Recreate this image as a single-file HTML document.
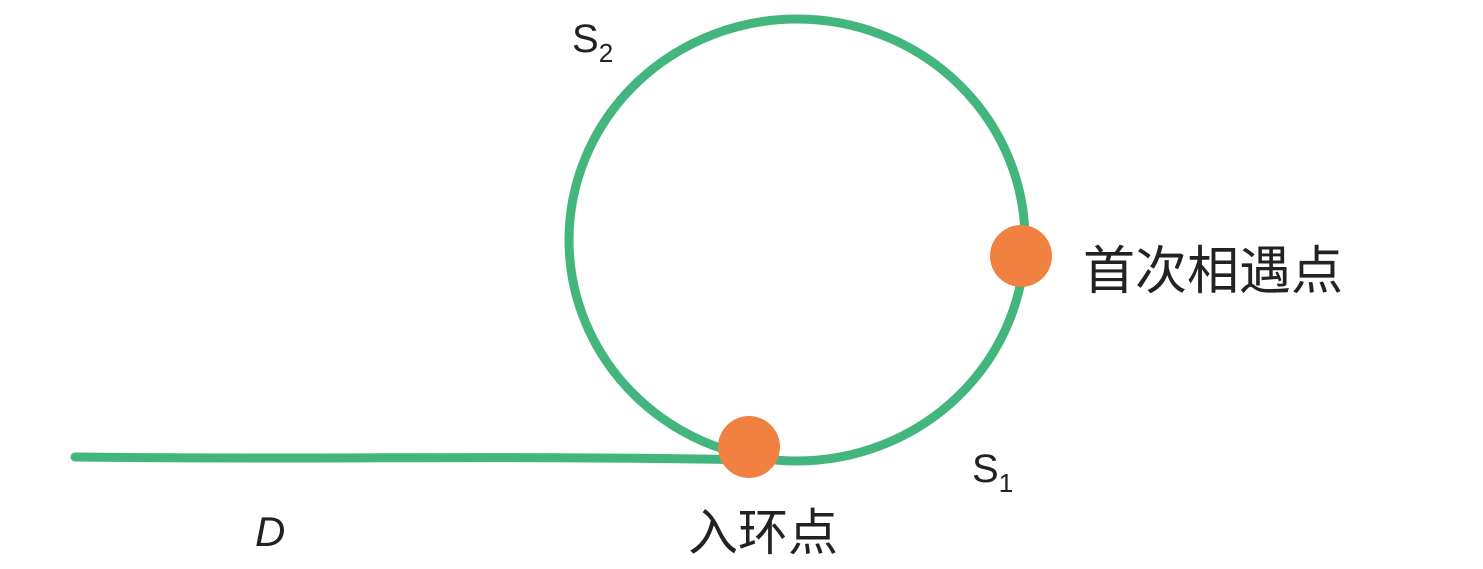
<!DOCTYPE html>
<html>
<head>
<meta charset="utf-8">
<style>
html,body{margin:0;padding:0;background:#fff;}
svg{display:block;}
text{font-family:"Liberation Sans","Noto Sans CJK SC",sans-serif;fill:#222;}
</style>
</head>
<body>
<svg width="1483" height="569" viewBox="0 0 1483 569">
  <rect x="0" y="0" width="1483" height="569" fill="#fff"/>
  <path d="M75,457 C300,460 500,455 760,460" stroke="#42b67d" stroke-width="9" fill="none" stroke-linecap="round"/>
  <ellipse cx="797" cy="240" rx="228" ry="221" stroke="#42b67d" stroke-width="9" fill="none"/>
  <circle cx="749" cy="447" r="31" fill="#f08140"/>
  <circle cx="1021" cy="256" r="31" fill="#f08140"/>
  <text x="572" y="52" font-size="40">S<tspan font-size="26" dy="10">2</tspan></text>
  <text x="972" y="482" font-size="40">S<tspan font-size="26" dy="10">1</tspan></text>
  <text x="255" y="546" font-size="42" font-style="italic">D</text>
  <text x="688" y="550" font-size="50">入环点</text>
  <text x="1083" y="289" font-size="52">首次相遇点</text>
</svg>
</body>
</html>
